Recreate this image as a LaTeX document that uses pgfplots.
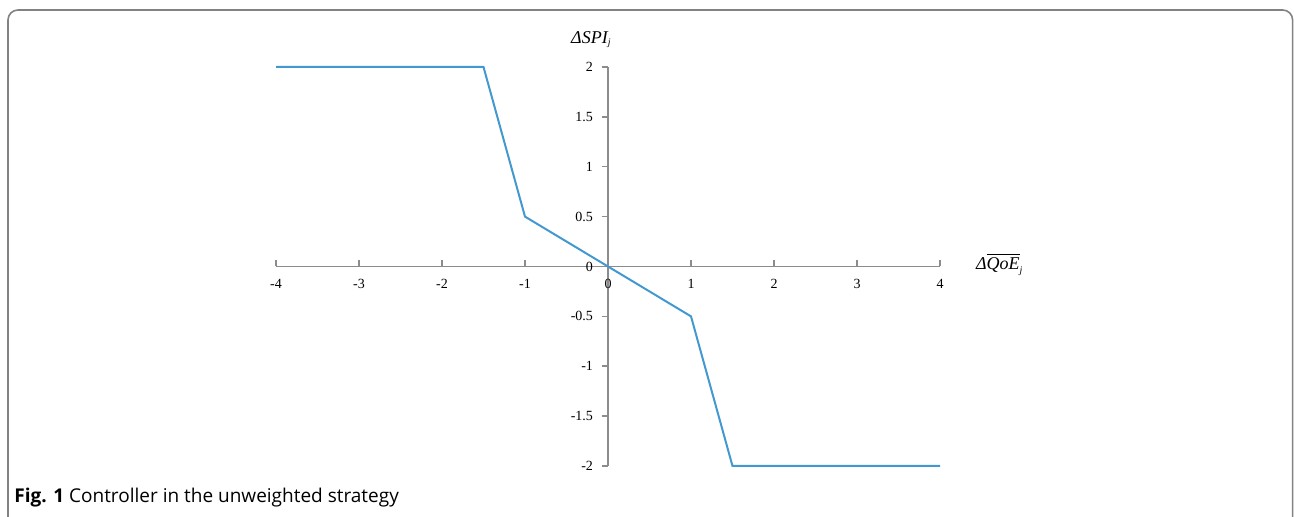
\documentclass[border=0pt]{standalone}
\usepackage{pgfplots}
\pgfplotsset{compat=1.18}
\usepackage{fontspec}
\setmainfont{Liberation Serif}
\newfontfamily\capfont{Open Sans}
\definecolor{lineblue}{RGB}{68,152,208}
\definecolor{axgray}{RGB}{140,140,140}
\definecolor{framegray}{RGB}{130,130,130}
\begin{document}
\begin{tikzpicture}
\useasboundingbox (0,0) rectangle (647pt,258.5pt);
\clip (0,0) rectangle (647pt,258.5pt);
\draw[framegray, line width=0.8pt, rounded corners=5pt] (4pt,-20pt) -- (4pt,253.5pt) -- (646.3pt,253.5pt) -- (646.3pt,-20pt);
\node[anchor=base west, inner sep=0pt, font=\capfont\fontsize{9.5}{11}\selectfont] at (7pt,7pt) {\textbf{Fig. 1} Controller in the unweighted strategy};
\begin{axis}[
  at={(138pt,25.5pt)}, anchor=south west,
  scale only axis, width=332pt, height=199.5pt,
  xmin=-4, xmax=4, ymin=-2, ymax=2,
  axis lines=middle,
  axis line style={-, axgray, line width=0.75pt},
  hide obscured x ticks=false, hide obscured y ticks=false,
  xtick={-4,-3,...,4}, ytick={-2,-1.5,...,2},
  major tick length=3pt,
  xtick align=inside, ytick align=outside,
  tick style={axgray, line width=0.75pt},
  /pgf/number format/assume math mode=true,
  tick label style={font=\fontsize{7}{8}\selectfont},
  xticklabel style={yshift=-3pt},
  yticklabel style={xshift=-1pt},
  clip=false,
]
\addplot[lineblue, line width=1pt] coordinates {(-4,2) (-1.5,2) (-1,0.5) (0,0) (1,-0.5) (1.5,-2) (4,-2)};
\node[font=\fontsize{9}{10}\selectfont] at (axis cs:-0.2,2.27) {\itshape ΔSPI$_{\hbox{\fontsize{5}{6}\selectfont\itshape j}}$};
\node[font=\fontsize{9}{10}\selectfont] at (axis cs:4.72,0.02) {\itshape Δ$\overline{\hbox{\itshape QoE}}_{\hbox{\fontsize{5}{6}\selectfont\itshape j}}$};
\end{axis}
\end{tikzpicture}
\end{document}
